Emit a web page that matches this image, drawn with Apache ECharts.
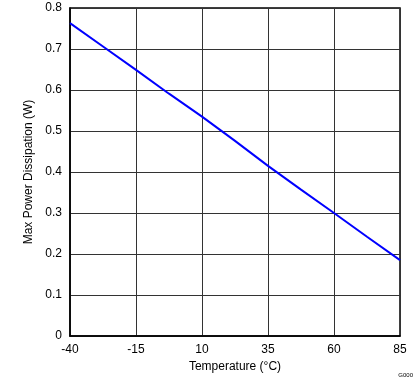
<!DOCTYPE html>
<html>
<head>
<meta charset="utf-8">
<script src="https://cdn.jsdelivr.net/npm/echarts@6/dist/echarts.min.js"></script>
<style>html,body{margin:0;padding:0;background:#fff}#c{width:419px;height:382px}</style>
</head>
<body>
<div id="c"></div>
<script>
var temperature = [-40, -27.5, -15, -2.5, 10, 22.5, 35, 47.5, 60, 72.5, 85];
var maxPower = [0.763, 0.706, 0.649, 0.591, 0.535, 0.476, 0.415, 0.357, 0.300, 0.242, 0.185];
var xTicks = [-40, -15, 10, 35, 60, 85];
var yTicks = [0, 0.1, 0.2, 0.3, 0.4, 0.5, 0.6, 0.7, 0.8];

var chart = echarts.init(document.getElementById('c'));
var font = 'Liberation Sans, Arial, sans-serif';
chart.setOption({
  animation: false,
  grid: {left: 70, right: 19, top: 8, bottom: 46, show: true, borderColor: '#000', borderWidth: 1.5, backgroundColor: '#fff'},
  xAxis: {
    type: 'value', min: -40, max: 85, interval: 25,
    name: 'Temperature (°C)', nameLocation: 'middle', nameGap: 21,
    nameTextStyle: {color: '#000', fontSize: 12, fontFamily: font},
    axisLine: {show: true, onZero: false, lineStyle: {color: '#000', width: 1.5}},
    axisTick: {show: false},
    axisLabel: {color: '#000', fontSize: 12, fontFamily: font, margin: 8},
    splitLine: {show: true, lineStyle: {color: '#333', width: 1}}
  },
  yAxis: {
    type: 'value', min: 0, max: 0.8, interval: 0.1,
    name: 'Max Power Dissipation (W)', nameLocation: 'middle', nameGap: 34,
    nameTextStyle: {color: '#000', fontSize: 12, fontFamily: font},
    axisLine: {show: true, onZero: false, lineStyle: {color: '#000', width: 1.5}},
    axisTick: {show: false},
    axisLabel: {color: '#000', fontSize: 12, fontFamily: font, margin: 8,
      formatter: function (v) { return yTicks.indexOf(Math.round(v * 10) / 10) >= 0 ? String(Math.round(v * 10) / 10) : ''; }},
    splitLine: {show: true, lineStyle: {color: '#333', width: 1}}
  },
  graphic: [{type: 'text', right: 6, bottom: 4, style: {text: 'G000', fill: '#000', font: '6px ' + font}}],
  series: [{
    type: 'line',
    data: temperature.map(function (t, i) { return [t, maxPower[i]]; }),
    showSymbol: false,
    lineStyle: {color: '#0000ff', width: 2},
    z: 5
  }]
});
</script>
</body>
</html>
